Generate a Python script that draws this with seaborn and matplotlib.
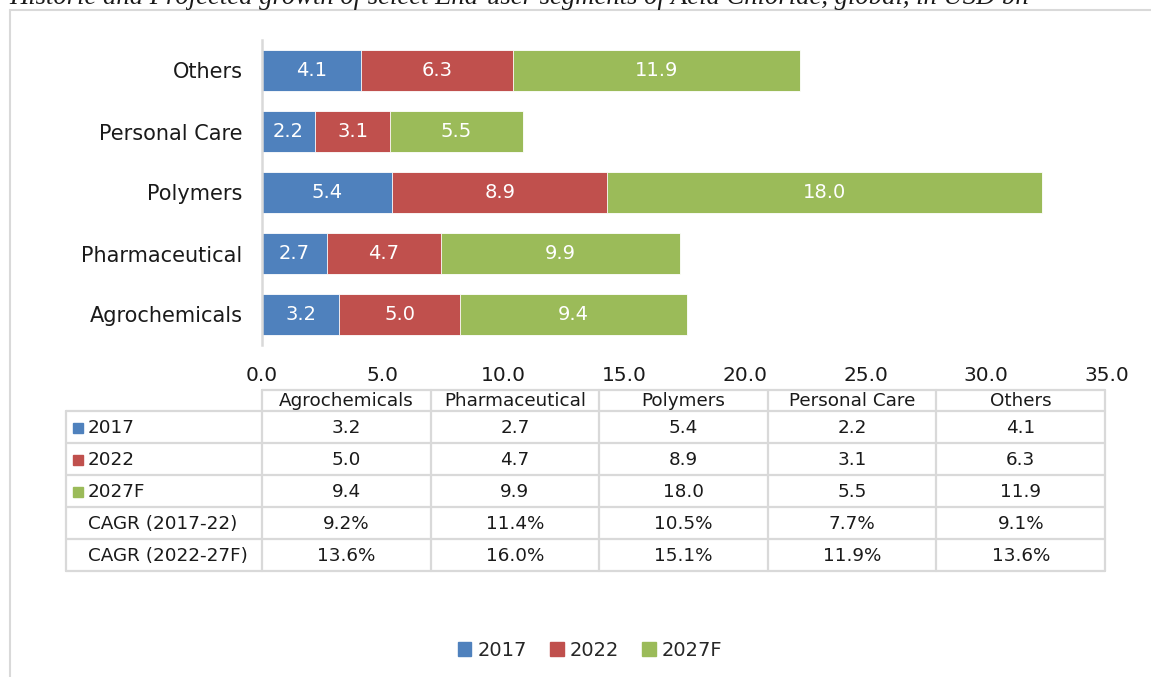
import matplotlib
matplotlib.use("Agg")
import matplotlib.pyplot as plt
import matplotlib.patches as mpatches
import numpy as np
import pandas as pd
import seaborn as sns

# data (table order)
segments = ["Agrochemicals", "Pharmaceutical", "Polymers", "Personal Care", "Others"]
v2017 = [3.2, 2.7, 5.4, 2.2, 4.1]
v2022 = [5.0, 4.7, 8.9, 3.1, 6.3]
v2027 = [9.4, 9.9, 18.0, 5.5, 11.9]
cagr_17_22 = ["9.2%", "11.4%", "10.5%", "7.7%", "9.1%"]
cagr_22_27 = ["13.6%", "16.0%", "15.1%", "11.9%", "13.6%"]
series = ["2017", "2022", "2027F"]
colors = ["#4F81BD", "#C0504D", "#9BBB59"]
xticks = [0, 5, 10, 15, 20, 25, 30, 35]
title = "Historic and Projected growth of select End-user segments of Acid Chloride, global, in USD bn"

W, H = 1151, 677
sns.set_theme(style="white")
plt.rcParams["font.family"] = ["DejaVu Sans"]

fig = plt.figure(figsize=(W / 100, H / 100), dpi=100)

# pixel helper for layout
def px(l, t, r, b):
    return [l / W, 1 - b / H, (r - l) / W, (b - t) / H]

# background frame / table layer
bg = fig.add_axes([0, 0, 1, 1])
bg.set_xlim(0, W)
bg.set_ylim(H, 0)
bg.axis("off")
grid_c = "#d9d9d9"
bg.plot([10, 10], [10, H + 5], color=grid_c, lw=1.5)
bg.plot([10, W + 5], [10, 10], color=grid_c, lw=1.5)

# title sits partly above the image edge, as in the source
fig.text(9 / W, 1 - 4 / H, title, family="Liberation Serif", style="italic",
         fontsize=19.2, ha="left", va="baseline", color="#1a1a1a")

# chart
ax = fig.add_axes(px(262, 40, 1107, 345))
order = segments[::-1]
df = pd.DataFrame({"segment": segments, "2017": v2017, "2022": v2022, "2027F": v2027})
df["c1"] = df["2017"]
df["c2"] = df["2017"] + df["2022"]
df["c3"] = df["c2"] + df["2027F"]
# draw cumulative totals, longest first
for col, c in zip(["c3", "c2", "c1"], colors[::-1]):
    sns.barplot(data=df, x=col, y="segment", order=order, color=c, width=0.66,
                saturation=1, edgecolor="white", linewidth=0.6, ax=ax)

for _, row in df.iterrows():
    yi = order.index(row["segment"])
    start = 0
    for s in series:
        v = row[s]
        ax.text(start + v / 2, yi, f"{v:.1f}", ha="center", va="center",
                color="white", fontsize=14)
        start += v

ax.set_xlim(0, 35)
ax.set_ylim(4.5, -0.5)
ax.set_xticks(xticks)
ax.set_xticklabels([f"{t:.1f}" for t in xticks])
ax.set_xlabel("")
ax.set_ylabel("")
ax.tick_params(axis="x", length=0, pad=15, labelsize=14.5, colors="#1a1a1a")
ax.tick_params(axis="y", length=0, pad=14, labelsize=15, colors="#1a1a1a")
for side in ["top", "right", "bottom"]:
    ax.spines[side].set_visible(False)
ax.spines["left"].set_color(grid_c)
ax.spines["left"].set_linewidth(1.8)

# data table
col_l, col_r = 262, 1105
cw = (col_r - col_l) / len(segments)
lab_l = 66
hdr_t, hdr_b = 390, 411
row_h = 32
rows = [("2017", v2017, colors[0]), ("2022", v2022, colors[1]), ("2027F", v2027, colors[2]),
        ("CAGR (2017-22)", cagr_17_22, None), ("CAGR (2022-27F)", cagr_22_27, None)]
tab_b = hdr_b + row_h * len(rows)
lw = 1.6
# horizontal lines
bg.plot([col_l, col_r], [hdr_t, hdr_t], color=grid_c, lw=lw)
for i in range(len(rows) + 1):
    y = hdr_b + i * row_h
    bg.plot([lab_l, col_r], [y, y], color=grid_c, lw=lw)
# vertical lines
bg.plot([lab_l, lab_l], [hdr_b, tab_b], color=grid_c, lw=lw)
for j in range(len(segments) + 1):
    x = col_l + j * cw
    bg.plot([x, x], [hdr_t, tab_b], color=grid_c, lw=lw)

fs_tab = 13.2
for j, s in enumerate(segments):
    bg.text(col_l + (j + 0.5) * cw, (hdr_t + hdr_b) / 2 + 1, s, ha="center", va="center",
            fontsize=fs_tab, color="#1a1a1a")
for i, (lab, vals, c) in enumerate(rows):
    yc = hdr_b + (i + 0.5) * row_h + 1
    if c is not None:
        bg.add_patch(mpatches.Rectangle((73, yc - 5), 10, 10, color=c))
    bg.text(88, yc, lab, ha="left", va="center", fontsize=fs_tab, color="#1a1a1a")
    for j, v in enumerate(vals):
        txt = v if isinstance(v, str) else f"{v:.1f}"
        bg.text(col_l + (j + 0.5) * cw, yc, txt, ha="center", va="center",
                fontsize=fs_tab, color="#1a1a1a")

handles = [mpatches.Patch(color=c, label=s) for s, c in zip(series, colors)]
fig.legend(handles=handles, loc="center", bbox_to_anchor=(590 / W, 1 - 650 / H), ncol=3,
           frameon=False, fontsize=14, handlelength=0.7, handleheight=0.7,
           handletextpad=0.3, columnspacing=1.2)

fig.savefig("out.png", dpi=100)
